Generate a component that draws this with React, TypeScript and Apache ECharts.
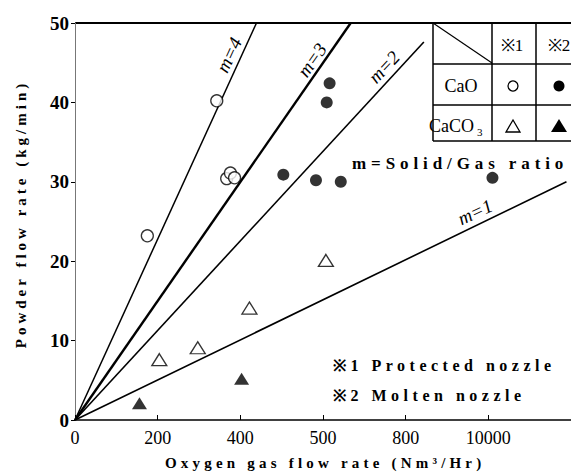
import React, { useEffect, useRef } from "react";
import * as echarts from "echarts";

// ---- data (x: oxygen gas flow rate, y: powder flow rate) ----
const xTickValues = [0, 200, 400, 600, 800, 1000];
const xTickLabels = ["0", "200", "400", "500", "800", "10000"];
const yTickLabels = ["0", "10", "20", "30", "40", "50"];

const caoProtected: [number, number][] = [
  [175, 23.2], [343, 40.2], [367, 30.4], [376, 31.1], [386, 30.5],
];
const caoMolten: [number, number][] = [
  [616, 42.4], [609, 40.0], [504, 30.9], [583, 30.2], [643, 30.0], [1010, 30.5],
];
const caco3Protected: [number, number][] = [
  [204, 7.6], [297, 9.1], [422, 14.1], [607, 20.1],
];
const caco3Molten: [number, number][] = [
  [156, 2.1], [403, 5.2],
];

// solid/gas ratio lines: origin to end point
const ratioNames = ["m=4", "m=3", "m=2", "m=1"];
const ratioEnds: [number, number][] = [
  [439, 50], [667, 50], [844, 47.6], [1189, 30.0],
];
const ratioWidths = [1.5, 2.4, 1.6, 1.6];

const SERIF = "'Liberation Serif', 'DejaVu Serif', serif";

export default function App() {
  const ref = useRef<HTMLDivElement>(null);

  useEffect(() => {
    if (!ref.current) return;
    const chart = echarts.init(ref.current, undefined, { renderer: "svg" });

    const lineSeries = ratioEnds.map((end, i) => ({
      name: ratioNames[i],
      type: "line",
      data: [[0, 0], end],
      symbol: "none",
      lineStyle: { color: "#000", width: ratioWidths[i] },
      silent: true,
      z: 2,
    }));

    const ratioLabels = [
      { t: "m=4", x: 229, y: 55, r: 65 },
      { t: "m=3", x: 312, y: 60, r: 55 },
      { t: "m=2", x: 384, y: 67, r: 47 },
      { t: "m=1", x: 475, y: 212, r: 25 },
    ].map((l) => ({
      type: "text",
      x: l.x,
      y: l.y,
      rotation: (l.r * Math.PI) / 180,
      silent: true,
      style: {
        text: l.t,
        font: `italic 19px ${SERIF}`,
        fill: "#000",
        align: "center",
        verticalAlign: "middle",
      },
    }));

    const ln = (x1: number, y1: number, x2: number, y2: number, w = 1.5) => ({
      type: "line",
      silent: true,
      shape: { x1, y1, x2, y2 },
      style: { stroke: "#000", lineWidth: w },
    });
    const txt = (t: string, x: number, y: number, font: string, align = "center") => ({
      type: "text",
      x,
      y,
      silent: true,
      style: { text: t, font, fill: "#000", align, verticalAlign: "middle" },
    });

    const tableFont = `17px ${SERIF}`;
    const graphics: any[] = [
      // top frame line
      ln(75, 23, 571, 23, 2),
      // table
      ln(433, 64, 571, 64),
      ln(433, 105, 571, 105),
      ln(433, 141, 571, 141),
      ln(433, 23, 433, 141),
      ln(492, 23, 492, 141),
      ln(536, 23, 536, 141),
      ln(433, 23, 492, 63, 1.2),
      txt("※1", 512, 45, tableFont),
      txt("※2", 559, 45, tableFont),
      txt("CaO", 461, 86, `18px ${SERIF}`),
      txt("CaCO", 429, 126, `18px ${SERIF}`, "left"),
      txt("3", 477, 132, `11px ${SERIF}`, "left"),
      {
        type: "circle", silent: true, shape: { cx: 513, cy: 86, r: 5 },
        style: { fill: "#fff", stroke: "#000", lineWidth: 1.3 },
      },
      {
        type: "circle", silent: true, shape: { cx: 559, cy: 86, r: 5.5 },
        style: { fill: "#000" },
      },
      {
        type: "polygon", silent: true,
        shape: { points: [[513, 120], [506, 132], [520, 132]] },
        style: { fill: "#fff", stroke: "#000", lineWidth: 1.3 },
      },
      {
        type: "polygon", silent: true,
        shape: { points: [[559, 119], [551, 132], [567, 132]] },
        style: { fill: "#000" },
      },
      // annotations
      txt("m=Solid/Gas ratio", 352, 163, `bold 17px ${SERIF}`, "left"),
      txt("※1 Protected nozzle", 333, 365, `bold 16px ${SERIF}`, "left"),
      txt("※2 Molten nozzle", 333, 395, `bold 16px ${SERIF}`, "left"),
      // axis titles
      txt("Oxygen gas flow rate (Nm³/Hr)", 165, 463, `bold 15px ${SERIF}`, "left"),
      {
        type: "text",
        x: 21,
        y: 214,
        rotation: Math.PI / 2,
        silent: true,
        style: {
          text: "Powder flow rate (kg/min)",
          font: `bold 15px ${SERIF}`,
          fill: "#000",
          align: "center",
          verticalAlign: "middle",
        },
      },
      ...ratioLabels,
    ];

    chart.setOption({
      animation: false,
      backgroundColor: "#fff",
      grid: { left: 75, top: 23, width: 500, height: 397, containLabel: false },
      xAxis: {
        type: "value",
        min: 0,
        max: 1200,
        interval: 200,
        splitLine: { show: false },
        axisLine: { show: true, onZero: false, lineStyle: { color: "#000", width: 1.6 } },
        axisTick: { show: true, inside: true, length: 5, lineStyle: { color: "#000" } },
        axisLabel: {
          color: "#000",
          fontFamily: SERIF,
          fontSize: 18,
          margin: 9,
          showMaxLabel: false,
          formatter: (v: number) => {
            const i = xTickValues.indexOf(v);
            return i >= 0 ? xTickLabels[i] : "";
          },
        },
      },
      yAxis: {
        type: "value",
        min: 0,
        max: 50,
        interval: 10,
        splitLine: { show: false },
        axisLine: { show: true, onZero: false, lineStyle: { color: "#777", width: 1 } },
        axisTick: { show: true, inside: false, length: 4, lineStyle: { color: "#000" } },
        axisLabel: {
          color: "#000",
          fontFamily: SERIF,
          fontWeight: "bold",
          fontSize: 19,
          margin: 6,
          formatter: (v: number) => yTickLabels[Math.round(v / 10)] ?? "",
        },
      },
      series: [
        ...lineSeries,
        {
          name: "CaO ※1",
          type: "scatter",
          data: caoProtected,
          symbol: "circle",
          symbolSize: 12,
          itemStyle: { color: "#fff", borderColor: "#000", borderWidth: 1.3 },
          z: 3,
        },
        {
          name: "CaO ※2",
          type: "scatter",
          data: caoMolten,
          symbol: "circle",
          symbolSize: 12,
          itemStyle: { color: "#000" },
          z: 3,
        },
        {
          name: "CaCO3 ※1",
          type: "scatter",
          data: caco3Protected,
          symbol: "triangle",
          symbolSize: [15, 12],
          itemStyle: { color: "#fff", borderColor: "#000", borderWidth: 1.3 },
          z: 3,
        },
        {
          name: "CaCO3 ※2",
          type: "scatter",
          data: caco3Molten,
          symbol: "triangle",
          symbolSize: [15, 12],
          itemStyle: { color: "#000" },
          z: 3,
        },
      ],
      graphic: graphics,
    });

    // letter spacing on the spaced-out captions
    const spacing: Record<string, string> = {
      "m=Solid/Gas ratio": "4.9px",
      "※1 Protected nozzle": "4.5px",
      "※2 Molten nozzle": "4.5px",
      "Oxygen gas flow rate (Nm³/Hr)": "4.2px",
      "Powder flow rate (kg/min)": "4px",
    };
    ref.current.querySelectorAll("text").forEach((el) => {
      const s = spacing[(el.textContent || "").trim()];
      if (s) (el as SVGTextElement).style.letterSpacing = s;
    });

    return () => chart.dispose();
  }, []);

  return (
    <div
      ref={ref}
      style={{ position: "fixed", left: 0, top: 0, width: 571, height: 475, background: "#fff" }}
    />
  );
}
